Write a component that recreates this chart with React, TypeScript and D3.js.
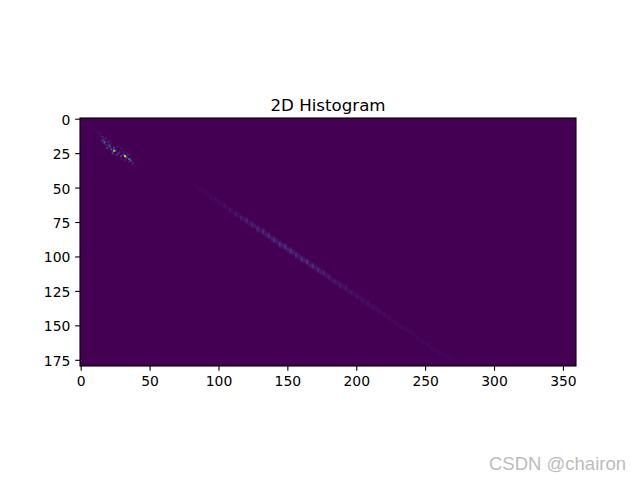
import * as d3 from "d3";
import { useEffect, useRef } from "react";

const xTicks = [0, 50, 100, 150, 200, 250, 300, 350];
const yTicks = [0, 25, 50, 75, 100, 125, 150, 175];

// bright cells top left (hue bin, sat bin, relative count)
const hotX = [6, 8, 10, 12, 13, 14, 15, 16, 18, 12, 15, 17, 15, 19, 18, 20, 22, 21, 24, 23, 27, 29, 26, 30, 28, 31, 33, 34, 36, 29, 32, 35, 37, 38, 39, 16, 17, 20, 19, 21, 22, 24, 25, 23, 24, 27, 29, 31, 33, 32, 35, 36];
const hotY = [5, 7, 8, 10, 9, 11, 10, 13, 14, 13, 13, 15, 16, 16, 19, 17, 18, 16, 20, 24, 20, 21, 26, 22, 24, 24, 25, 26, 26, 29, 30, 31, 33, 32, 34, 15, 17, 19, 21, 20, 22, 21, 23, 25, 23, 25, 27, 26, 28, 27, 29, 30];
const hotV = [0.015, 0.02, 0.03, 0.035, 0.03, 0.05, 0.03, 0.06, 0.05, 0.03, 0.08, 0.08, 0.1, 0.05, 0.08, 0.1, 0.05, 0.04, 0.04, 0.1, 0.03, 0.04, 0.12, 0.04, 0.08, 0.08, 0.06, 0.08, 0.05, 0.04, 0.08, 0.08, 0.06, 0.08, 0.03, 0.16, 0.45, 0.15, 0.18, 0.25, 0.25, 0.16, 0.2, 0.18, 0.8, 0.15, 0.18, 0.25, 0.22, 0.95, 0.45, 0.3];

// long faint band, two bins per column
const bandX = [80, 82, 84, 86, 88, 90, 92, 94, 96, 98, 100, 102, 104, 106, 108, 110, 112, 114, 116, 118, 120, 122, 124, 126, 128, 130, 132, 134, 136, 138, 140, 142, 144, 146, 148, 150, 152, 154, 156, 158, 160, 162, 164, 166, 168, 170, 172, 174, 176, 178, 180, 182, 184, 186, 188, 190, 192, 194, 196, 198, 200, 202, 204, 206, 208, 210, 212, 214, 216, 218, 220, 222, 224, 226, 228, 230, 232, 234, 236, 238, 240, 242, 244, 246, 248, 250, 252, 254, 256, 258, 260, 262, 264, 266, 268, 270, 272];
const bandY = [47, 48, 50, 51, 52, 54, 55, 57, 58, 59, 61, 62, 63, 65, 66, 67, 69, 70, 72, 73, 74, 76, 77, 78, 80, 81, 82, 84, 85, 87, 88, 89, 91, 92, 93, 95, 96, 97, 99, 100, 102, 103, 104, 106, 107, 108, 110, 111, 112, 114, 115, 117, 118, 119, 121, 122, 123, 125, 126, 127, 129, 130, 132, 133, 134, 136, 137, 138, 140, 141, 142, 144, 145, 147, 148, 149, 151, 152, 153, 155, 156, 157, 159, 160, 162, 163, 164, 166, 167, 168, 170, 171, 172, 173, 174, 175, 176];
const bandPeak = [
  0.008, 0.014, 0.008, 0.016, 0.01, 0.018, 0.012, 0.02, 0.014, 0.024,
  0.03, 0.018, 0.036, 0.022, 0.045, 0.026, 0.055, 0.03, 0.065, 0.036,
  0.08, 0.04, 0.09, 0.05, 0.1, 0.052, 0.11, 0.06, 0.115, 0.06,
  0.125, 0.062, 0.13, 0.07, 0.14, 0.07, 0.125, 0.066, 0.12, 0.062,
  0.125, 0.066, 0.13, 0.062, 0.12, 0.06, 0.11, 0.055, 0.09, 0.05,
  0.07, 0.04, 0.065, 0.036, 0.07, 0.034, 0.06, 0.03, 0.05, 0.026,
  0.045, 0.026, 0.04, 0.022, 0.04, 0.02, 0.035, 0.02, 0.03, 0.018,
  0.03, 0.016, 0.028, 0.015, 0.026, 0.014, 0.024, 0.013, 0.022, 0.012,
  0.022, 0.012, 0.02, 0.011, 0.02, 0.01, 0.018, 0.01, 0.016, 0.009,
  0.016, 0.009, 0.014, 0.009, 0.012, 0.008, 0.008,
];
const bandSide = [
  0.004, 0.006, 0.004, 0.007, 0.005, 0.008, 0.006, 0.009, 0.007, 0.01,
  0.012, 0.009, 0.014, 0.011, 0.018, 0.012, 0.022, 0.014, 0.026, 0.016,
  0.032, 0.018, 0.036, 0.022, 0.04, 0.024, 0.044, 0.026, 0.046, 0.028,
  0.05, 0.028, 0.052, 0.03, 0.056, 0.03, 0.05, 0.03, 0.048, 0.028,
  0.05, 0.03, 0.052, 0.028, 0.048, 0.026, 0.044, 0.024, 0.036, 0.022,
  0.028, 0.018, 0.026, 0.016, 0.028, 0.015, 0.024, 0.013, 0.02, 0.012,
  0.018, 0.012, 0.016, 0.01, 0.016, 0.009, 0.014, 0.009, 0.012, 0.008,
  0.012, 0.007, 0.011, 0.007, 0.01, 0.006, 0.01, 0.006, 0.009, 0.005,
  0.009, 0.005, 0.008, 0.005, 0.008, 0.005, 0.007, 0.005, 0.006, 0.004,
  0.006, 0.004, 0.006, 0.004, 0.005, 0.003, 0.003,
];

const font = "'DejaVu Sans', sans-serif";

function App() {
  const svgRef = useRef<SVGSVGElement>(null);

  useEffect(() => {
    const left = 80;
    const right = 576;
    const top = 118;
    const bottom = 366;
    const svg = d3.select(svgRef.current);
    svg.selectAll("*").remove();

    const x = d3.scaleLinear().domain([-0.5, 359.5]).range([left, right]);
    const y = d3.scaleLinear().domain([-0.5, 179.5]).range([top, bottom]);
    const color = d3.scaleSequential(d3.interpolateViridis).domain([0, 1]);

    svg.append("rect").attr("width", 640).attr("height", 480).attr("fill", "white");
    svg
      .append("rect")
      .attr("x", left)
      .attr("y", top)
      .attr("width", right - left)
      .attr("height", bottom - top)
      .attr("fill", color(0));

    const cell = (bx: number, by: number, w: number, h: number, v: number) => {
      svg
        .append("rect")
        .attr("x", x(bx - 0.5))
        .attr("y", y(by - 0.5))
        .attr("width", x(bx + w - 0.5) - x(bx - 0.5))
        .attr("height", y(by + h - 0.5) - y(by - 0.5))
        .attr("fill", color(v));
    };

    bandX.forEach((bx, i) => {
      cell(bx, bandY[i] - 2, 2, 5, bandSide[i]);
      cell(bx, bandY[i] - 1, 2, 3, bandPeak[i]);
    });
    hotX.forEach((bx, i) => cell(bx, hotY[i], 1.5, 1.5, hotV[i]));

    const xAxis = svg
      .append("g")
      .attr("transform", `translate(0,${bottom})`)
      .call(d3.axisBottom(x).tickValues(xTicks).tickSize(4.86).tickPadding(4.8));
    const yAxis = svg
      .append("g")
      .attr("transform", `translate(${left},0)`)
      .call(d3.axisLeft(y).tickValues(yTicks).tickSize(4.86).tickPadding(4.8));

    [xAxis, yAxis].forEach((g) => {
      g.select(".domain").remove();
      g.selectAll("line").attr("stroke", "black").attr("stroke-width", 1.1);
      g.selectAll("text").attr("fill", "black").style("font", `13.9px ${font}`);
    });
    yAxis.selectAll("text").attr("transform", "translate(0,1)");

    svg
      .append("rect")
      .attr("x", left)
      .attr("y", top)
      .attr("width", right - left)
      .attr("height", bottom - top)
      .attr("fill", "none")
      .attr("stroke", "black")
      .attr("stroke-width", 1.1);

    svg
      .append("text")
      .attr("x", (left + right) / 2)
      .attr("y", top - 7)
      .attr("text-anchor", "middle")
      .style("font", `16.67px ${font}`)
      .text("2D Histogram");

    // watermark
    svg
      .append("text")
      .attr("x", 626)
      .attr("y", 470)
      .attr("text-anchor", "end")
      .attr("fill", "#bcbcbc")
      .style("font", "18.5px 'Liberation Sans', sans-serif")
      .text("CSDN @chairon");
  }, []);

  return (
    <svg
      ref={svgRef}
      width={640}
      height={480}
      style={{ position: "absolute", left: 0, top: 0 }}
    />
  );
}

export default App;
